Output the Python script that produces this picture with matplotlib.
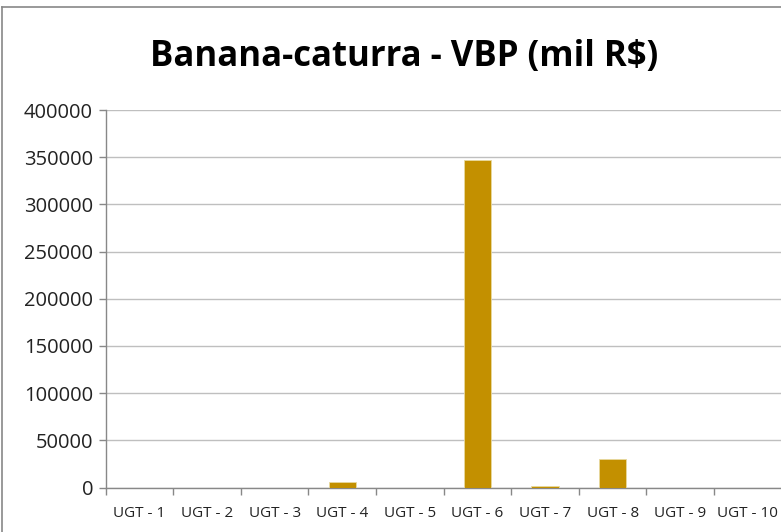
import matplotlib
matplotlib.use("Agg")
import matplotlib.pyplot as plt
from matplotlib.lines import Line2D
import numpy as np

categories = ["UGT - 1", "UGT - 2", "UGT - 3", "UGT - 4", "UGT - 5",
              "UGT - 6", "UGT - 7", "UGT - 8", "UGT - 9", "UGT - 10"]
values = [0, 0, 0, 5300, 0, 347000, 1500, 29700, 0, 0]
yticks = [0, 50000, 100000, 150000, 200000, 250000, 300000, 350000, 400000]

fam = "Open Sans"
W, H = 781, 532
fig = plt.figure(figsize=(W / 100, H / 100), dpi=100)
fig.patch.set_facecolor("white")

ax = fig.add_axes([105.6 / W, 1 - 487.5 / H, (781.6 - 105.6) / W, (487.5 - 110) / H])
x = np.arange(len(categories))
ax.bar(x, values, width=0.4, color="#C39000", edgecolor="#E8D9A0", linewidth=0.6, zorder=3)
ax.set_xlim(-0.5, len(categories) - 0.5)
ax.set_ylim(0, 400000)
ax.set_yticks(yticks)
ax.set_yticklabels([str(v) for v in yticks], fontsize=14.5, family=fam, color="#222222")
ax.set_xticks(x)
ax.set_xticklabels(categories, fontsize=11, family=fam, color="#222222")
ax.set_xticks(np.arange(len(categories) + 1) - 0.5, minor=True)
ax.tick_params(axis="x", which="major", length=0, pad=13)
ax.tick_params(axis="x", which="minor", length=5, color="#888888", width=1)
ax.tick_params(axis="y", length=5, color="#888888", width=1, pad=4)
ax.grid(axis="y", color="#BFBFBF", linewidth=1, zorder=0)
for s in ["top", "right"]:
    ax.spines[s].set_visible(False)
for s in ["left", "bottom"]:
    ax.spines[s].set_color("#888888")
    ax.spines[s].set_linewidth(1)

fig.text(404 / W, 1 - 57 / H, "Banana-caturra - VBP (mil R$)", ha="center", va="center",
         fontsize=25, fontweight="bold", family=fam, color="black")

# outer chart frame
fig.add_artist(Line2D([2 / W, 2 / W], [0, 1 - 7 / H], color="#888888", linewidth=1.2))
fig.add_artist(Line2D([2 / W, 1], [1 - 7 / H, 1 - 7 / H], color="#888888", linewidth=1.2))

fig.savefig("out.png", dpi=100)
